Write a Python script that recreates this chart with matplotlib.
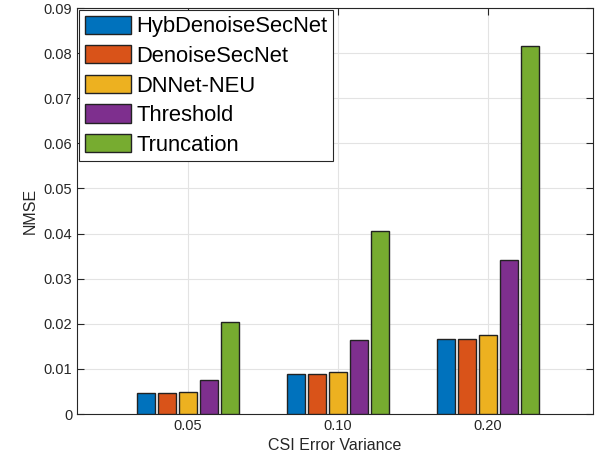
import numpy as np
import matplotlib
matplotlib.use('Agg')
import matplotlib.pyplot as plt

plt.rcParams['font.family'] = ['Liberation Sans', 'DejaVu Sans']

groups = ['0.05', '0.10', '0.20']
methods = ['HybDenoiseSecNet', 'DenoiseSecNet', 'DNNet-NEU', 'Threshold', 'Truncation']
hyb = [0.0046, 0.0088, 0.0166]
denoise = [0.0046, 0.0088, 0.0166]
dnnet = [0.0048, 0.0094, 0.0176]
threshold = [0.0075, 0.0163, 0.0341]
truncation = [0.0203, 0.0406, 0.0816]
colors = ['#0072BD', '#D95319', '#EDB120', '#7E2F8E', '#77AC30']

series = [hyb, denoise, dnnet, threshold, truncation]

fig = plt.figure(figsize=(5.95, 4.68), dpi=100)
ax = fig.add_axes([77/595, 1 - 414/468, (593-77)/595, (414-8)/468])

x = np.arange(1, len(groups) + 1)
step = 0.14
width = 0.115
for i, (vals, name, c) in enumerate(zip(series, methods, colors)):
    ax.bar(x + (i - 2) * step, vals, width, color=c, edgecolor='#222222',
           linewidth=1.0, label=name, zorder=3)

ax.set_xlim(0.26, 3.7)
ax.set_ylim(0, 0.09)
ax.set_xticks(x)
ax.set_xticklabels(groups)
ax.set_yticks(np.arange(0, 0.0901, 0.01))
ax.set_yticklabels(['0'] + ['%.2f' % v for v in np.arange(0.01, 0.0901, 0.01)])
ax.tick_params(direction='in', top=True, right=True, labelsize=10.5,
               colors='#262626', length=5, width=0.8)
ax.grid(True, color='#e3e3e3', linewidth=0.8, zorder=0)
for s in ax.spines.values():
    s.set_color('#262626')
    s.set_linewidth(0.8)
ax.set_xlabel('CSI Error Variance', fontsize=11.5, color='#262626')
ax.set_ylabel('NMSE', fontsize=11.5, color='#262626')

leg = ax.legend(loc='upper left', fontsize=15.8, fancybox=False, framealpha=1,
                edgecolor='#262626', borderpad=0.25, labelspacing=0.36,
                handlelength=2.1, handleheight=0.9, handletextpad=0.25,
                borderaxespad=0.1)
leg.get_frame().set_linewidth(0.8)

fig.savefig('out.png', dpi=100)
